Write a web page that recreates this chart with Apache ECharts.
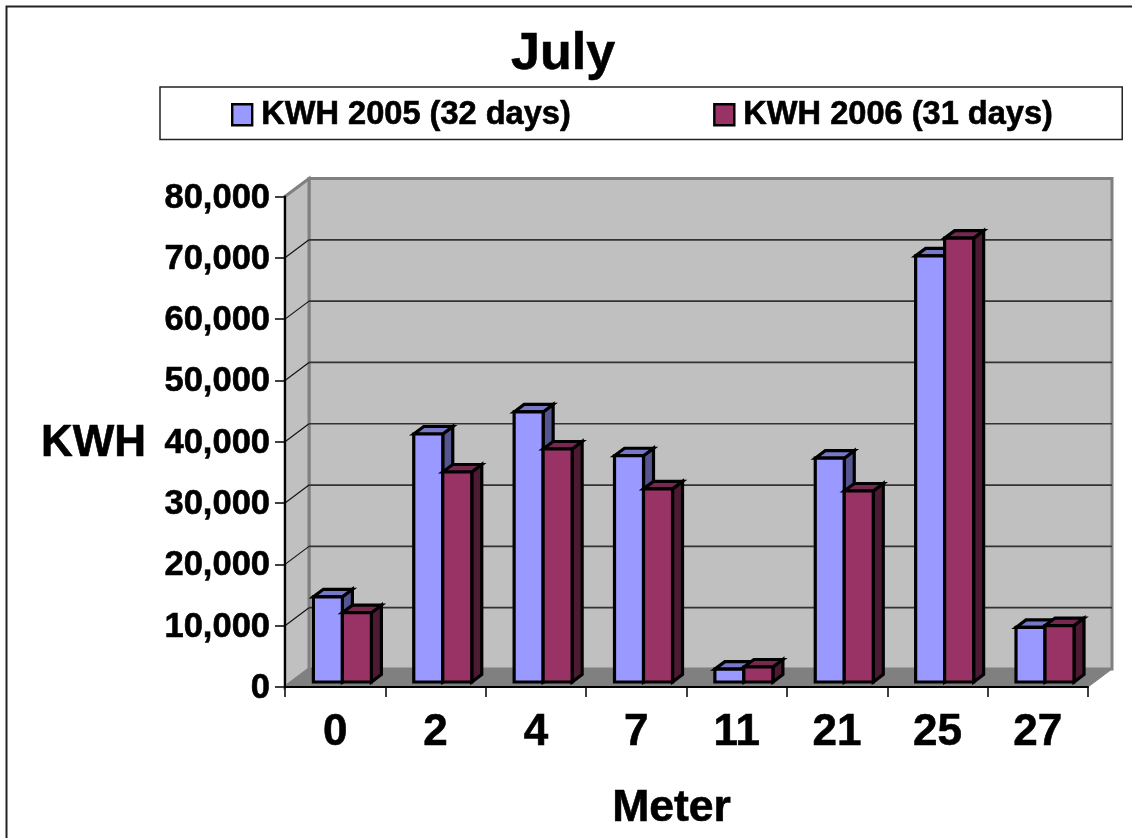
<!DOCTYPE html>
<html><head><meta charset="utf-8">
<style>html,body{margin:0;padding:0;background:#fff}#c{width:1132px;height:838px}</style>
<script src="https://cdn.jsdelivr.net/npm/echarts@6/dist/echarts.min.js"></script>
</head><body><div id="c"></div>
<script>
const categories = ['0','2','4','7','11','21','25','27'];
const kwh2005 = [13900,40450,44050,36900,2100,36500,69500,8900];
const kwh2006 = [11300,34250,38000,31500,2450,31150,72400,9200];
const yTicks = [0,10000,20000,30000,40000,50000,60000,70000,80000];
const FONT = '"Liberation Sans", Arial, sans-serif';
const DX = 24, DY = 18;
const BOLD = {fontFamily:FONT,fontWeight:'bold',color:'#000',textBorderColor:'#000',textBorderWidth:0.6};

function poly(points, fill, stroke, lw, z2) {
  return {type:'polygon', z2:z2||0, shape:{points}, style:{fill, stroke, lineWidth:lw, lineJoin:'miter'}};
}
function line(points, stroke, lw, z2) {
  return {type:'polyline', z2:z2||0, shape:{points}, style:{fill:'none', stroke, lineWidth:lw}};
}
function backdrop(params, api) {
  const cs = params.coordSys, xL = cs.x, xR = cs.x + cs.width;
  const v = api.value(0);
  const p = api.coord([0, v]), y = p[1];
  const kids = [];
  if (params.dataIndex === 0) {
    const yT = cs.y;
    kids.push(poly([[xL+DX,yT-DY],[xR+DX,yT-DY],[xR+DX,y-DY],[xL+DX,y-DY]],'#C0C0C0','#808080',3,0));
    kids.push(poly([[xL,yT],[xL+DX,yT-DY],[xL+DX,y-DY],[xL,y]],'#C0C0C0','#808080',3,1));
    kids.push(poly([[xL,y],[xL+DX,y-DY],[xR+DX,y-DY],[xR,y]],'#808080','#808080',1,2));
  } else if (v < yTicks[yTicks.length-1]) {
    kids.push(line([[xL,y],[xL+DX,y-DY]],'#111',1.2,3));
    kids.push(line([[xL+DX,y-DY],[xR+DX,y-DY]],'#333',1.7,3));
  }
  return {type:'group', children:kids};
}
function bars(color, topC, sideC, slot) {
  return function (params, api) {
    const i = api.value(0), v = api.value(1);
    const w = api.size([1,0])[0] * 0.289;
    const c = api.coord([i, v]), b = api.coord([i, 0]);
    const x0 = c[0] + 7.2 + (slot - 1) * w, x1 = x0 + w;
    const yt = c[1] - 5, yb = b[1] - 5, dx = 10, dy = 7.5;
    const lw = 3.2;
    return {type:'group', children:[
      poly([[x1,yt],[x1+dx,yt-dy],[x1+dx,yb-dy],[x1,yb]], sideC, '#000', lw),
      poly([[x0,yt],[x0+dx,yt-dy],[x1+dx,yt-dy],[x1,yt]], topC, '#000', lw),
      poly([[x0,yt],[x1,yt],[x1,yb],[x0,yb]], color, '#000', lw)
    ]};
  };
}
const chart = echarts.init(document.getElementById('c'), null, {renderer:'canvas'});
chart.setOption({
  animation:false,
  backgroundColor:'#fff',
  graphic:[{type:'rect', z:0, silent:true, shape:{x:6.5,y:6.5,width:1200,height:900},
            style:{fill:'none',stroke:'#222',lineWidth:2}}],
  title:{text:'July', left:511, top:29, padding:0,
    textStyle:Object.assign({fontSize:52},BOLD)},
  legend:{
    left:160, top:87, orient:'horizontal',
    padding:[11,69,8,71], itemGap:142, itemWidth:20, itemHeight:21,
    borderColor:'#222', borderWidth:1.5, backgroundColor:'#fff',
    data:['KWH 2005 (32 days)','KWH 2006 (31 days)'],
    icon:'rect',
    itemStyle:{borderColor:'#000',borderWidth:2.4},
    textStyle:Object.assign({fontSize:32.6,padding:[6,0,0,4]},BOLD)
  },
  grid:{left:285, width:803, top:196.5, height:490.5, containLabel:false, outerBoundsMode:'none'},
  xAxis:{
    type:'category', data:categories, z:5,
    name:'Meter', nameLocation:'middle', nameGap:99,
    nameTextStyle:Object.assign({fontSize:44.5,padding:[0,30,0,0]},BOLD),
    axisLine:{lineStyle:{color:'#000',width:2}},
    axisTick:{show:true,alignWithLabel:false,length:10,lineStyle:{color:'#000',width:1.5}},
    axisLabel:Object.assign({fontSize:44,margin:24,interval:0},BOLD)
  },
  yAxis:{
    type:'value', min:0, max:80000, interval:10000, z:5,
    name:'KWH', nameLocation:'middle', nameRotate:0, nameGap:139,
    nameTextStyle:Object.assign({fontSize:44,verticalAlign:'top',lineHeight:4},BOLD),
    splitLine:{show:false},
    axisLine:{show:true,lineStyle:{color:'#000',width:2}},
    axisTick:{show:true,length:10,lineStyle:{color:'#000',width:1.5}},
    axisLabel:Object.assign({fontSize:34.5,margin:15,verticalAlign:'top',lineHeight:3,
      formatter:v=>v.toLocaleString('en-US')},BOLD)
  },
  series:[
    {type:'custom', name:'walls', z:1, silent:true, clip:false, coordinateSystem:'cartesian2d',
      renderItem:backdrop, data:yTicks.map(v=>[v]), encode:{y:0}},
    {type:'custom', name:'KWH 2005 (32 days)', z:3, silent:true, clip:false, itemStyle:{color:'#9999FF'},
      renderItem:bars('#9999FF','#7878C8','#55558F',0),
      data:kwh2005.map((v,i)=>[i,v]), encode:{x:0,y:1}},
    {type:'custom', name:'KWH 2006 (31 days)', z:4, silent:true, clip:false, itemStyle:{color:'#993366'},
      renderItem:bars('#993366','#77284F','#4C1A33',1),
      data:kwh2006.map((v,i)=>[i,v]), encode:{x:0,y:1}}
  ]
});
</script></body></html>
